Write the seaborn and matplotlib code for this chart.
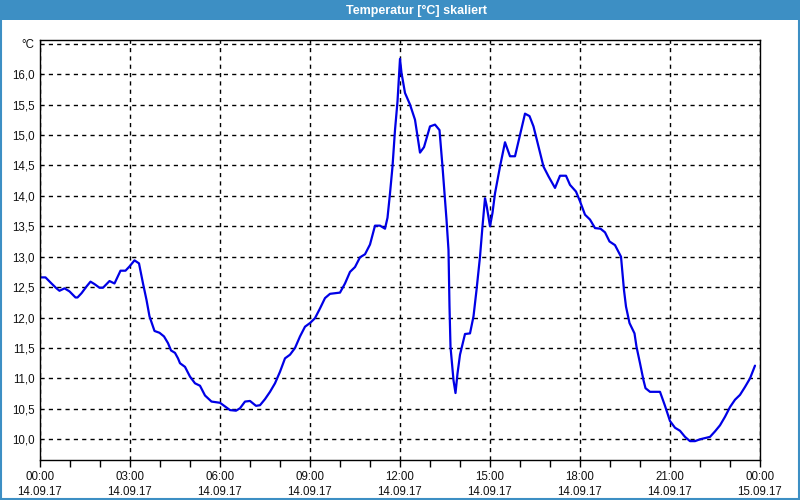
import numpy as np
import pandas as pd
import matplotlib
matplotlib.use("Agg")
import matplotlib.pyplot as plt
import seaborn as sns
from matplotlib.patches import Rectangle
from matplotlib.ticker import MultipleLocator

# ---- data ----
minutes = [0, 11, 23, 33, 39, 49, 59, 71, 75, 83, 93, 101, 109, 119, 126, 139, 149, 161, 171, 179,
           189, 198, 206, 213, 219, 229, 239, 248, 256, 262, 270, 276, 280, 290, 300, 310, 320, 330,
           343, 360, 370, 380, 392, 400, 410, 420, 432, 440, 450, 460, 470, 480, 490, 500, 510, 520,
           530, 540, 550, 560, 570, 580, 600, 610, 620, 630, 640, 650, 660, 670, 680, 690, 695, 700,
           705, 710, 715, 720, 723, 730, 740, 750, 760, 768, 780, 790, 799, 805, 813, 817, 819, 821,
           827, 831, 835, 840, 850, 860, 867, 873, 880, 885, 890, 893, 900, 905, 910, 920, 930, 940,
           950, 960, 970, 979, 987, 997, 1007, 1017, 1030, 1040, 1052, 1060, 1072, 1080, 1090, 1100,
           1110, 1121, 1130, 1139, 1150, 1157, 1162, 1165, 1168, 1172, 1179, 1189, 1193, 1200, 1207,
           1211, 1220, 1240, 1250, 1260, 1270, 1280, 1290, 1300, 1310, 1320, 1330, 1340, 1350, 1360,
           1370, 1380, 1390, 1400, 1410, 1420, 1430]
temps = [12.66, 12.66, 12.56, 12.48, 12.44, 12.48, 12.43, 12.33, 12.33, 12.40, 12.51, 12.59, 12.55,
         12.49, 12.49, 12.60, 12.56, 12.77, 12.77, 12.84, 12.94, 12.89, 12.56, 12.29, 12.02, 11.78,
         11.75, 11.69, 11.58, 11.46, 11.42, 11.33, 11.25, 11.19, 11.03, 10.92, 10.88, 10.72, 10.62,
         10.60, 10.54, 10.48, 10.47, 10.51, 10.62, 10.63, 10.55, 10.56, 10.66, 10.78, 10.92, 11.11,
         11.33, 11.39, 11.50, 11.69, 11.85, 11.91, 11.99, 12.15, 12.32, 12.39, 12.41, 12.56, 12.75,
         12.83, 12.99, 13.04, 13.20, 13.51, 13.51, 13.46, 13.64, 14.04, 14.48, 15.08, 15.55, 16.25,
         16.02, 15.69, 15.50, 15.25, 14.71, 14.80, 15.14, 15.17, 15.08, 14.48, 13.61, 13.11, 12.18,
         11.52, 10.97, 10.76, 11.08, 11.39, 11.73, 11.74, 12.02, 12.45, 13.00, 13.50, 13.96, 13.85,
         13.50, 13.72, 14.04, 14.48, 14.88, 14.65, 14.65, 15.00, 15.35, 15.31, 15.14, 14.81, 14.48,
         14.32, 14.13, 14.33, 14.33, 14.18, 14.07, 13.91, 13.69, 13.61, 13.47, 13.46, 13.40, 13.25,
         13.19, 13.08, 13.00, 12.73, 12.45, 12.18, 11.91, 11.74, 11.52, 11.25, 10.97, 10.84, 10.78,
         10.78, 10.55, 10.30, 10.19, 10.14, 10.04, 9.97, 9.97, 10.00, 10.02, 10.04, 10.13, 10.23,
         10.37, 10.53, 10.65, 10.73, 10.86, 11.00, 11.21]

x_ticks = [0, 3, 6, 9, 12, 15, 18, 21, 24]
x_labels = ["00:00\n14.09.17", "03:00\n14.09.17", "06:00\n14.09.17", "09:00\n14.09.17",
            "12:00\n14.09.17", "15:00\n14.09.17", "18:00\n14.09.17", "21:00\n14.09.17",
            "00:00\n15.09.17"]
y_ticks = [10.0, 10.5, 11.0, 11.5, 12.0, 12.5, 13.0, 13.5, 14.0, 14.5, 15.0, 15.5, 16.0, 16.5]
y_labels = ["10,0", "10,5", "11,0", "11,5", "12,0", "12,5", "13,0", "13,5", "14,0", "14,5",
            "15,0", "15,5", "16,0", "°C"]
title = "Temperatur [°C] skaliert"

# ---- plot ----
sns.set_theme(style="white")
plt.rcParams['font.family'] = ['Liberation Sans', 'DejaVu Sans']

BLUE_BAR = "#3d8fc4"
fig = plt.figure(figsize=(8, 5), dpi=100, facecolor="white")
ax = fig.add_axes([40 / 800, 40 / 500, 720 / 800, 420 / 500])
ax.set_facecolor("white")

df = pd.DataFrame({"hour": np.array(minutes) / 60.0, "temp": temps})
sns.lineplot(data=df, x="hour", y="temp", ax=ax, color="#0000e6", linewidth=1.6)

ax.set_xlim(0, 24)
ax.set_ylim(9.66, 16.56)
ax.set_xticks(x_ticks)
ax.set_xticklabels(x_labels, fontsize=8.3, linespacing=1.3)
ax.xaxis.set_minor_locator(MultipleLocator(1))
ax.set_yticks(y_ticks)
ax.set_yticklabels(y_labels, fontsize=8.3)
ax.set_xlabel("")
ax.set_ylabel("")

ax.grid(True, which="major", color="black", linestyle=(0, (3, 3)), linewidth=1)
ax.tick_params(axis="x", which="both", direction="out", length=5, width=1, color="black",
               bottom=True, pad=3, labelcolor="#111111")
ax.tick_params(axis="y", which="both", length=0, pad=4, labelcolor="#111111")
for s in ax.spines.values():
    s.set_visible(True)
    s.set_color("black")
    s.set_linewidth(1)

# title bar and frame
fig.patches.append(Rectangle((0, 1 - 20 / 500), 1, 20 / 500, transform=fig.transFigure,
                             facecolor=BLUE_BAR, edgecolor="none", zorder=0))
fig.patches.append(Rectangle((0.001, 0.002), 0.998, 0.996, transform=fig.transFigure,
                             fill=False, edgecolor=BLUE_BAR, linewidth=1.5, zorder=0))
fig.text(416 / 800, 1 - 10.5 / 500, title, color="white", fontweight="bold", fontsize=9,
         ha="center", va="center")

fig.savefig("out.png", dpi=100)
